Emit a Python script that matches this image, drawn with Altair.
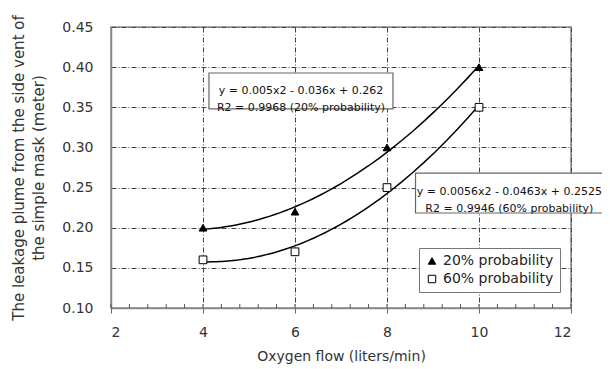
import altair as alt
import pandas as pd

# data
flow = [4, 6, 8, 10]
p20 = [0.20, 0.22, 0.30, 0.40]
p60 = [0.16, 0.17, 0.25, 0.35]
series_names = ["20% probability", "60% probability"]
x_major = [2, 4, 6, 8, 10, 12]
x_minor = [round(2 + 0.4 * i, 1) for i in range(26)]
y_ticks = [0.10, 0.15, 0.20, 0.25, 0.30, 0.35, 0.40, 0.45]

eq20 = ["y = 0.005x2 - 0.036x + 0.262", "R2 = 0.9968 (20% probability)"]
eq60 = ["y = 0.0056x2 - 0.0463x + 0.2525", "R2 = 0.9946 (60% probability)"]

rows = []
for x, a, b in zip(flow, p20, p60):
    rows.append({"x": x, "y": a, "series": series_names[0]})
    rows.append({"x": x, "y": b, "series": series_names[1]})
df = pd.DataFrame(rows)

# annotation boxes (data coordinates)
ann = pd.DataFrame([
    {"x1": 4.13, "x2": 8.13, "y1": 0.348, "y2": 0.3927, "tx": 6.13, "ty": 0.3703, "txt": eq20},
    {"x1": 8.62, "x2": 12.95, "y1": 0.2183, "y2": 0.2681, "tx": 10.66, "ty": 0.2439, "txt": eq60},
])

FONT = "DejaVu Sans"
TXT = "#333333"
W, H = 460, 281

xscale = alt.Scale(domain=[2, 12], nice=False)
yscale = alt.Scale(domain=[0.10, 0.45], nice=False)

xaxis = alt.Axis(values=x_major, format="d", title="Oxygen flow (liters/min)",
                 grid=True, gridColor="#444444", gridDash=[5, 2, 1, 2], gridWidth=1,
                 tickSize=5, tickColor="#666666", domainColor="#888888", domainWidth=1.5,
                 labelPadding=12, titlePadding=10)
yaxis = alt.Axis(values=y_ticks, format=".2f",
                 title=["The leakage plume from the side vent of", "the simple mask (meter)"],
                 grid=True, gridColor="#444444", gridDash=[5, 2, 1, 2], gridWidth=1,
                 tickSize=0, domainColor="#888888", domainWidth=1.5,
                 labelPadding=18, titlePadding=15, titleFontSize=15, titleLineHeight=20)

base = alt.Chart(df)

lines = base.transform_regression(
    "x", "y", method="poly", order=2, groupby=["series"], extent=[4, 10]
).mark_line(color="black", strokeWidth=1.5).encode(
    x=alt.X("x:Q", scale=xscale, axis=xaxis),
    y=alt.Y("y:Q", scale=yscale, axis=yaxis),
    detail="series:N",
)

minor = alt.Chart(pd.DataFrame({"x": x_minor, "y": [y_ticks[0]] * len(x_minor)})).mark_rule(
    color="#555555", strokeWidth=1, y2Offset=-4
).encode(
    x=alt.X("x:Q", scale=xscale),
    y=alt.Y("y:Q", scale=yscale),
    y2="y:Q",
)

legend = alt.Legend(title=None, orient="none", legendX=308, legendY=221,
                    strokeColor="#777777", padding=6, fillColor="white",
                    labelFont=FONT, labelFontSize=14, labelColor="#222222",
                    symbolStrokeColor="black", symbolStrokeWidth=1, symbolSize=55, rowPadding=4)

points = base.mark_point(filled=True, size=60, strokeWidth=1, opacity=1).encode(
    x=alt.X("x:Q", scale=xscale),
    y=alt.Y("y:Q", scale=yscale),
    shape=alt.Shape("series:N", scale=alt.Scale(domain=series_names, range=["triangle-up", "square"]), legend=legend),
    fill=alt.Fill("series:N", scale=alt.Scale(domain=series_names, range=["black", "white"]), legend=legend),
    stroke=alt.Stroke("series:N", scale=alt.Scale(domain=series_names, range=["black", "black"]), legend=legend),
)

boxes = alt.Chart(ann).mark_rect(fill="white", stroke="#666666", strokeWidth=1.2).encode(
    x=alt.X("x1:Q", scale=xscale), x2="x2:Q",
    y=alt.Y("y1:Q", scale=yscale), y2="y2:Q",
)
texts = alt.Chart(ann).mark_text(font=FONT, fontSize=11, color="#111111", lineHeight=17, baseline="middle").encode(
    x=alt.X("tx:Q", scale=xscale),
    y=alt.Y("ty:Q", scale=yscale),
    text="txt",
)

chart = alt.layer(lines, minor, boxes, texts, points).properties(
    width=W, height=H,
    autosize=alt.AutoSizeParams(type="none"),
    padding={"left": 103, "top": 19, "right": 31, "bottom": 59},
).configure_view(stroke="#888888", strokeWidth=1.5).configure_axis(
    labelFont=FONT, titleFont=FONT, labelFontSize=14, titleFontSize=14,
    labelColor=TXT, titleColor=TXT, titleFontWeight="normal",
)

chart.save("out.html", embed_options={"renderer": "svg", "actions": False})
